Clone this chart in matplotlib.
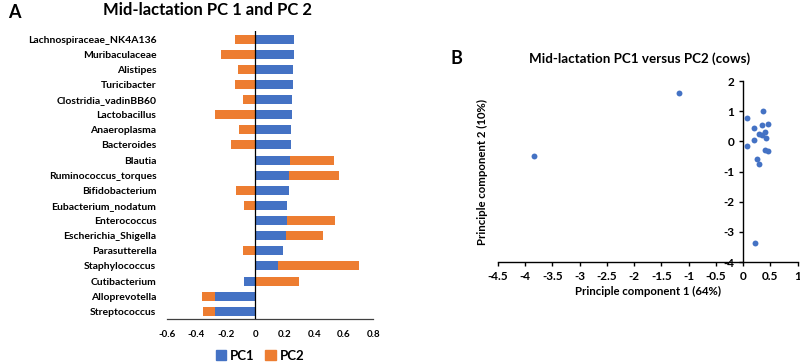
import matplotlib
matplotlib.use("Agg")
import matplotlib.pyplot as plt
from matplotlib.patches import Patch
import numpy as np

plt.rcParams['font.family'] = ['Lato', 'DejaVu Sans']
plt.rcParams['font.weight'] = 'bold'

# ---- Panel A data ----
taxa = ["Lachnospiraceae_NK4A136", "Muribaculaceae", "Alistipes", "Turicibacter",
        "Clostridia_vadinBB60", "Lactobacillus", "Anaeroplasma", "Bacteroides",
        "Blautia", "Ruminococcus_torques", "Bifidobacterium", "Eubacterium_nodatum",
        "Enterococcus", "Escherichia_Shigella", "Parasutterella", "Staphylococcus",
        "Cutibacterium", "Alloprevotella", "Streptococcus"]
pc1 = [0.263, 0.260, 0.258, 0.256, 0.249, 0.247, 0.243, 0.240, 0.238, 0.231,
       0.231, 0.215, 0.213, 0.211, 0.188, 0.156, -0.073, -0.270, -0.272]
pc2 = [-0.140, -0.229, -0.116, -0.134, -0.082, -0.274, -0.107, -0.163, 0.295, 0.338,
       -0.132, -0.079, 0.327, 0.249, -0.082, 0.545, 0.295, -0.088, -0.079]
bar_ticks = [-0.6, -0.4, -0.2, 0, 0.2, 0.4, 0.6, 0.8]
bar_tick_labels = ["-0.6", "-0.4", "-0.2", "0", "0.2", "0.4", "0.6", "0.8"]

# ---- Panel B data ----
pc1_scores = [0.08, 0.37, 0.20, 0.35, 0.45, 0.29, 0.40, 0.35, 0.42, 0.20, 0.08,
              0.41, 0.46, 0.26, 0.29, 0.21, -1.18, -3.84]
pc2_scores = [0.79, 1.00, 0.43, 0.54, 0.59, 0.24, 0.31, 0.22, 0.11, 0.04, -0.14,
              -0.30, -0.33, -0.60, -0.76, -3.38, 1.59, -0.50]
sc_xticks = [-4.5, -4, -3.5, -3, -2.5, -2, -1.5, -1, -0.5, 0, 0.5, 1]
sc_xlabels = ["-4.5", "-4", "-3.5", "-3", "-2.5", "-2", "-1.5", "-1", "-0.5", "0", "0.5", "1"]
sc_yticks = [-4, -3, -2, -1, 0, 1, 2]

BLUE = "#4472C4"
ORANGE = "#ED7D31"

fig = plt.figure(figsize=(8.0, 3.64), dpi=100)

# ---------------- Panel A ----------------
axA = fig.add_axes([0.2084, 0.1239, 0.258, 0.7896])
n = len(taxa)
y = np.arange(n)[::-1]
pc1a = np.array(pc1)
pc2a = np.array(pc2)
# Excel-style stacking: positives stack on positives, negatives on negatives
left2 = np.where(np.sign(pc2a) == np.sign(pc1a), pc1a, 0.0)
axA.barh(y, pc1a, height=0.6, color=BLUE, zorder=2)
axA.barh(y, pc2a, left=left2, height=0.6, color=ORANGE, zorder=2)
axA.axvline(0, color="black", lw=0.9, zorder=3)
axA.set_ylim(-0.5, n - 0.5)
axA.set_xlim(-0.6, 0.8)
axA.set_yticks(y)
axA.set_yticklabels(taxa, fontsize=7.5, fontweight='bold')
axA.tick_params(axis='y', length=0, pad=7.5)
axA.set_xticks(bar_ticks)
axA.set_xticklabels(bar_tick_labels, fontsize=7, fontweight='bold')
axA.tick_params(axis='x', length=0, pad=8)
for s in ['top', 'right', 'left']:
    axA.spines[s].set_visible(False)
axA.spines['bottom'].set_color('#404040')
axA.spines['bottom'].set_linewidth(0.9)
fig.text(0.259, 0.972, "Mid-lactation PC 1 and PC 2", ha='center', va='center',
         fontsize=12, fontweight='bold')
fig.text(0.010, 0.965, "A", ha='left', va='center', fontsize=13, fontweight='bold')
handles = [Patch(color=BLUE, label="PC1"), Patch(color=ORANGE, label="PC2")]
fig.legend(handles=handles, loc='center', bbox_to_anchor=(0.325, 0.022), ncol=2,
           frameon=False, handlelength=0.8, handleheight=0.8, borderpad=0.1,
           columnspacing=0.8, handletextpad=0.3, prop={'weight': 'bold', 'size': 9.5})

# ---------------- Panel B ----------------
axB = fig.add_axes([0.6225, 0.2802, 0.3745, 0.497])
axB.scatter(pc1_scores, pc2_scores, s=18, color=BLUE, zorder=3, linewidths=0)
axB.set_xlim(-4.5, 1)
axB.set_ylim(-4, 2)
axB.spines['left'].set_position(('data', 0))
axB.spines['top'].set_visible(False)
axB.spines['right'].set_visible(False)
for s in ['left', 'bottom']:
    axB.spines[s].set_linewidth(1.0)
    axB.spines[s].set_color('black')
axB.set_xticks(sc_xticks)
axB.set_xticklabels(sc_xlabels, fontsize=8.5, fontweight='bold')
axB.set_yticks(sc_yticks)
axB.set_yticklabels([str(v) for v in sc_yticks], fontsize=8.5, fontweight='bold')
axB.tick_params(axis='both', direction='out', length=3, width=1)
axB.set_xlabel("Principle component 1 (64%)", fontsize=8.2, fontweight='bold', labelpad=3)
axB.set_ylabel("Principle component 2 (10%)", fontsize=8.2, fontweight='bold')
axB.yaxis.set_label_coords(-0.035, 0.5)
fig.text(0.7994, 0.84, "Mid-lactation PC1 versus PC2 (cows)", ha='center', va='center',
         fontsize=9.6, fontweight='bold')
fig.text(0.571, 0.838, "B", ha='center', va='center', fontsize=13, fontweight='bold')

fig.savefig("out.png", dpi=100)
